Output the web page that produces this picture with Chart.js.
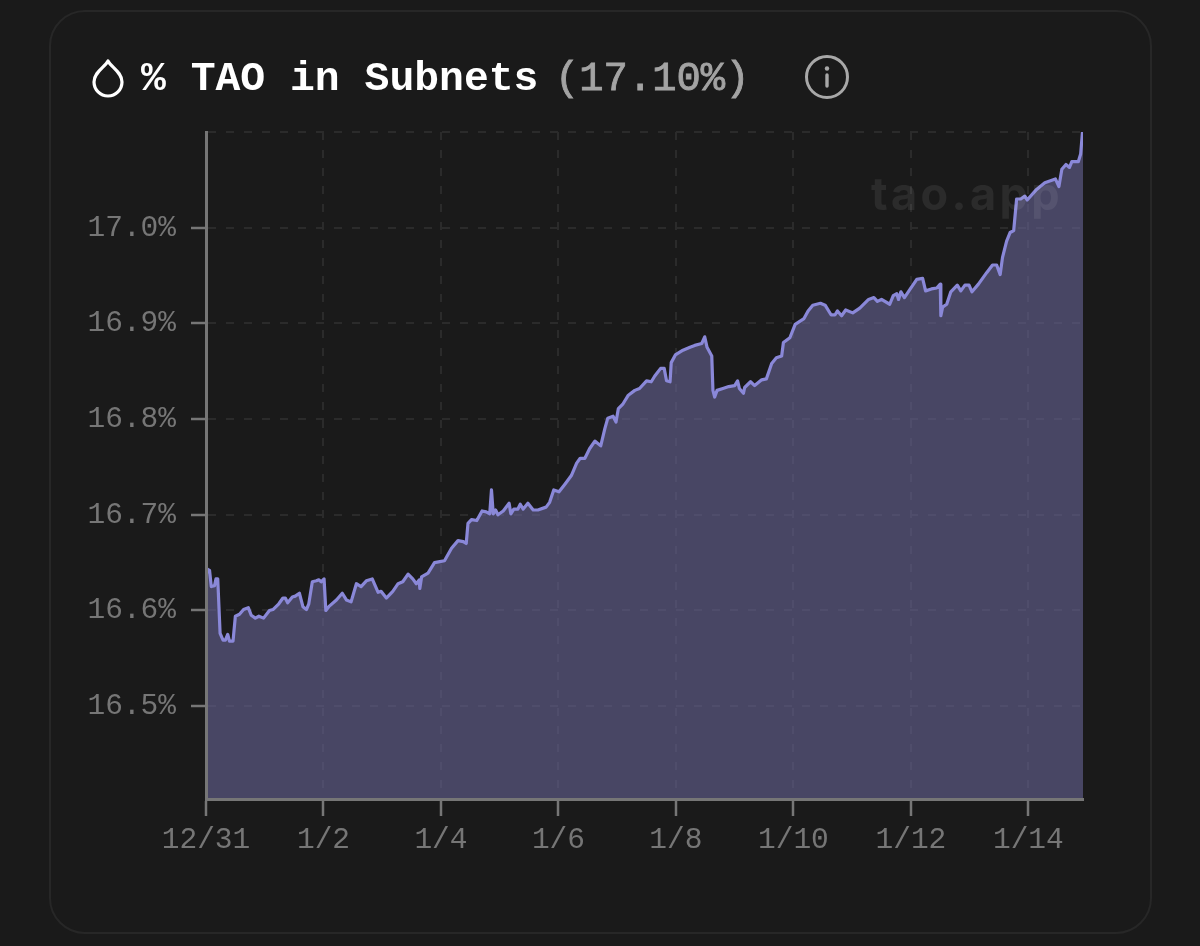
<!DOCTYPE html>
<html>
<head>
<meta charset="utf-8">
<title>% TAO in Subnets</title>
<script src="https://cdn.jsdelivr.net/npm/chart.js@4"></script>
<style>
  html, body { margin: 0; padding: 0; width: 1200px; height: 946px; background: #1a1a1a; overflow: hidden; }
  #card { position: absolute; left: 49px; top: 10px; width: 1099px; height: 920px; border: 2px solid #272727; border-radius: 36px; }
  #wrap { position: absolute; left: 0; top: 0; width: 1200px; height: 946px; }
  .title { position: absolute; top: 54px; font-family: "Liberation Mono", monospace; font-size: 41.4px; line-height: 50px; white-space: pre; }
  #name { left: 141px; color: #fff; font-weight: 700; }
  #pct { left: 555px; color: #a3a3a3; font-weight: 400; font-size: 40.5px; -webkit-text-stroke: 0.9px #a3a3a3; }
  #mark { position: absolute; left: 871px; top: 166px; font-family: Inter, sans-serif; font-weight: 700; font-size: 45px; letter-spacing: 3.4px; line-height: 56px; color: rgba(255,255,255,0.075); }
  svg { position: absolute; }
</style>
</head>
<body>
<div id="card"></div>
<div id="wrap"><canvas id="grafico" width="1200" height="946"></canvas></div>
<svg style="left:90px;top:58px" width="36" height="40" viewBox="0 0 36 40">
  <path d="M18 3 C21 9 32 14 32 24 A14 14 0 0 1 4 24 C4 14 15 9 18 3 Z" fill="none" stroke="#fff" stroke-width="3.2" stroke-linejoin="round"/>
</svg>
<div class="title" id="name">% TAO in Subnets</div>
<div class="title" id="pct">(17.10%)</div>
<svg style="left:804px;top:54px" width="46" height="46" viewBox="0 0 46 46">
  <circle cx="23" cy="23" r="20.5" fill="none" stroke="#a8a8a8" stroke-width="3"/>
  <circle cx="23" cy="14.5" r="2.2" fill="#a8a8a8"/>
  <line x1="23" y1="21" x2="23" y2="32" stroke="#a8a8a8" stroke-width="3.4" stroke-linecap="round"/>
</svg>
<div id="mark">tao.app</div>
<script>
const dias = [
  0.00,0.03,0.06,0.09,0.145,0.17,0.20,0.24,0.29,0.33,0.37,0.40,0.46,0.50,0.57,0.64,0.72,0.77,0.84,0.90,0.98,
  1.08,1.14,1.24,1.31,1.35,1.39,1.47,1.52,1.59,1.65,1.71,1.75,1.81,1.88,1.92,1.96,2.01,2.04,2.09,2.22,2.32,2.39,2.47,2.56,2.64,2.73,2.83,2.93,2.98,
  3.07,3.18,3.27,3.35,3.44,3.52,3.58,3.63,3.64,3.67,3.78,3.89,3.98,4.06,4.18,4.29,4.38,4.43,4.46,4.52,4.61,4.70,4.77,4.83,4.86,4.89,4.93,4.97,
  5.06,5.16,5.19,5.24,5.31,5.35,5.40,5.48,5.57,5.65,5.79,5.85,5.92,6.01,6.11,6.22,6.31,6.37,6.45,6.53,6.62,6.72,6.79,6.84,6.93,6.98,
  7.02,7.10,7.19,7.30,7.38,7.50,7.58,7.64,7.74,7.80,7.84,7.90,7.92,7.99,8.12,8.24,8.32,8.44,8.49,8.53,8.61,8.63,8.66,8.70,8.80,8.90,
  9.00,9.05,9.08,9.15,9.17,9.27,9.34,9.46,9.54,9.63,9.71,9.80,9.83,9.94,10.03,10.18,10.25,10.33,10.46,10.54,10.64,10.71,10.75,10.82,10.89,
  11.01,11.13,11.28,11.37,11.43,11.50,11.64,11.70,11.76,11.79,11.83,11.89,11.99,12.10,12.20,12.25,12.35,12.44,12.50,12.51,12.54,12.61,12.68,12.79,12.85,12.92,12.99,
  13.04,13.15,13.29,13.39,13.46,13.52,13.56,13.63,13.69,13.75,13.80,13.87,13.94,13.98,14.14,14.28,14.46,14.52,14.57,14.64,14.70,14.74,14.85,14.89,14.92,14.93
];
const taoPct = [
  16.637,16.643,16.642,16.625,16.626,16.633,16.633,16.576,16.569,16.569,16.575,16.568,16.568,16.594,16.596,16.601,16.603,16.595,16.592,16.594,16.592,
  16.600,16.601,16.607,16.613,16.613,16.608,16.614,16.615,16.618,16.604,16.601,16.607,16.630,16.631,16.632,16.630,16.633,16.600,16.604,16.611,16.618,16.611,16.609,16.628,16.625,16.631,16.633,16.619,16.620,
  16.613,16.620,16.628,16.630,16.638,16.633,16.628,16.632,16.623,16.635,16.639,16.650,16.651,16.652,16.665,16.673,16.672,16.670,16.691,16.695,16.694,16.704,16.703,16.701,16.726,16.701,16.705,16.700,
  16.704,16.712,16.701,16.706,16.706,16.711,16.706,16.712,16.705,16.705,16.708,16.713,16.726,16.724,16.732,16.741,16.754,16.759,16.759,16.769,16.777,16.772,16.790,16.801,16.803,16.797,
  16.811,16.816,16.825,16.830,16.832,16.840,16.839,16.845,16.853,16.853,16.840,16.839,16.859,16.867,16.872,16.875,16.877,16.879,16.886,16.875,16.866,16.830,16.823,16.830,16.832,16.834,
  16.835,16.840,16.832,16.827,16.833,16.839,16.835,16.841,16.842,16.858,16.864,16.866,16.880,16.885,16.899,16.905,16.913,16.919,16.921,16.919,16.909,16.909,16.913,16.908,16.914,
  16.911,16.916,16.925,16.927,16.923,16.925,16.920,16.929,16.931,16.925,16.933,16.927,16.936,16.946,16.947,16.934,16.936,16.937,16.941,16.908,16.917,16.920,16.933,16.940,16.934,16.940,16.940,
  16.933,16.941,16.953,16.961,16.961,16.951,16.969,16.986,16.995,16.997,17.030,17.030,17.033,17.029,17.040,17.047,17.051,17.043,17.061,17.066,17.063,17.069,17.069,17.077,17.099,17.100
];
const xTicks = [0, 2, 4, 6, 8, 10, 12, 14];
const xTickLabels = ['12/31', '1/2', '1/4', '1/6', '1/8', '1/10', '1/12', '1/14'];
const yTicks = [16.5, 16.6, 16.7, 16.8, 16.9, 17.0, 17.1];
const yTickLabels = ['16.5%', '16.6%', '16.7%', '16.8%', '16.9%', '17.0%', ''];

const fonteEixo = { family: '"Liberation Mono", monospace', size: 29.5 };
const corEixo = '#767676';
const corGrade = '#2b2b2b';

new Chart(document.getElementById('grafico').getContext('2d'), {
    type: 'line',
    data: {
        datasets: [{
            data: dias.map((d, i) => ({ x: d, y: taoPct[i] })),
            borderColor: '#8a88d8',
            borderWidth: 3.2,
            backgroundColor: 'rgba(108,105,158,0.56)',
            fill: 'start',
            pointRadius: 0,
            tension: 0,
            borderJoinStyle: 'round'
        }]
    },
    options: {
        responsive: false,
        animation: false,
        layout: { padding: { top: 132, right: 117, left: 0, bottom: 0 } },
        plugins: { legend: { display: false }, tooltip: { enabled: false } },
        scales: {
            x: {
                type: 'linear',
                min: 0,
                max: 14.93,
                afterBuildTicks: (axis) => { axis.ticks = xTicks.map(v => ({ value: v })); },
                afterFit: (axis) => { axis.height = 147; },
                ticks: {
                    color: corEixo,
                    font: fonteEixo,
                    padding: 6,
                    maxRotation: 0,
                    autoSkip: false,
                    callback: (v) => xTickLabels[xTicks.indexOf(v)]
                },
                grid: { color: corGrade, lineWidth: 2, tickColor: corEixo, tickLength: 17, tickWidth: 2.5 },
                border: { color: corEixo, width: 3, dash: [8, 10], z: 1 }
            },
            y: {
                min: 16.403,
                max: 17.1,
                afterBuildTicks: (axis) => { axis.ticks = yTicks.map(v => ({ value: v })); },
                afterFit: (axis) => { axis.width = 206; },
                ticks: {
                    color: corEixo,
                    font: fonteEixo,
                    padding: 15,
                    autoSkip: false,
                    callback: (v) => yTickLabels[yTicks.indexOf(v)]
                },
                grid: {
                    color: corGrade,
                    lineWidth: 2,
                    tickLength: 15,
                    tickWidth: 2.5,
                    tickColor: (ctx) => ctx.tick && ctx.tick.value === 17.1 ? 'transparent' : corEixo
                },
                border: { color: corEixo, width: 3, dash: [8, 10], z: 1 }
            }
        }
    }
});
</script>
</body>
</html>
